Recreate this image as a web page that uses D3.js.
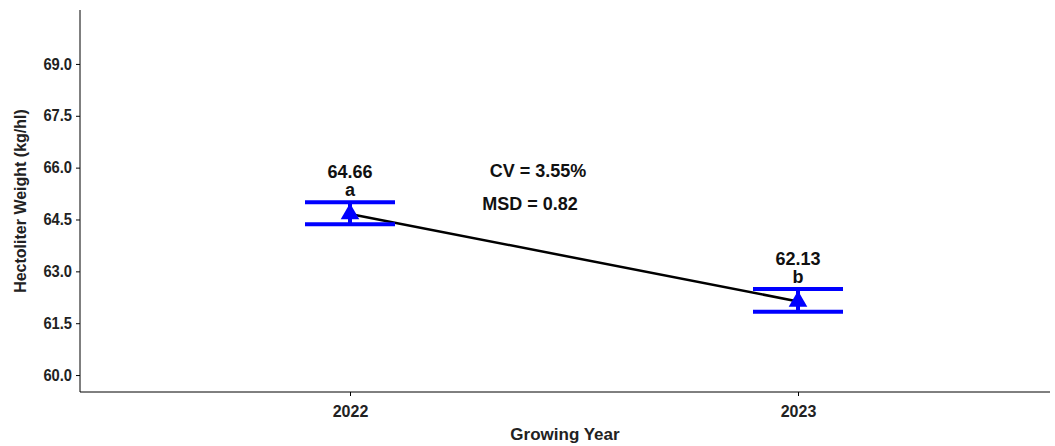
<!DOCTYPE html>
<html><head><meta charset="utf-8">
<script src="https://cdn.jsdelivr.net/npm/d3@7"></script>
<style>body{margin:0;background:#fff}text{font-family:Arial,"Liberation Sans",sans-serif;font-weight:bold}</style>
</head><body><svg id="c" width="1055" height="446"></svg>
<script>
const years=["2022","2023"];
const means=[64.66,62.13];
const upper=[65.0,62.49];
const lower=[64.36,61.83];
const letters=["a","b"];
const yTicks=[60.0,61.5,63.0,64.5,66.0,67.5,69.0];
const svg=d3.select("#c");
const L=80,R=1050,T=10,B=392;
const x=d3.scalePoint().domain(years).range([350,798]);
const y=d3.scaleLinear().domain([59.51,70.56]).range([B,T]);
const ya=svg.append("g").attr("transform",`translate(${L},0)`).call(d3.axisLeft(y).tickValues(yTicks).tickFormat(d3.format(".1f")).tickSize(4).tickSizeOuter(0));
ya.select(".domain").attr("d",`M0,${T}V${B}`).attr("stroke","#000");
ya.selectAll("text").attr("fill","#222").style("font-size","16px").attr("transform","scale(0.92,1)").attr("x",-8/0.92);
const xa=svg.append("g").attr("transform",`translate(0,${B})`).call(d3.axisBottom(x).tickSize(4).tickSizeOuter(0));
xa.select(".domain").attr("d",`M${L},0H${R}`);
xa.selectAll("text").attr("fill","#222").attr("dy","1.1em").style("font-size","16px");
svg.append("text").attr("x",565).attr("y",440).attr("text-anchor","middle").attr("font-size",17).attr("fill","#222").text("Growing Year");
svg.append("text").attr("transform","translate(26,201) rotate(-90)").attr("text-anchor","middle").attr("font-size",16).attr("fill","#222").text("Hectoliter Weight (kg/hl)");
svg.append("path").datum(years).attr("d",d3.line().x(d=>x(d)).y((d,i)=>y(means[i]))).attr("stroke","#000").attr("stroke-width",2.5).attr("fill","none");
years.forEach((yr,i)=>{
  const cx=x(yr),w=45;
  [upper[i],lower[i]].forEach(v=>svg.append("line").attr("x1",cx-w).attr("x2",cx+w).attr("y1",y(v)).attr("y2",y(v)).attr("stroke","#0000ff").attr("stroke-width",4));
  svg.append("line").attr("x1",cx).attr("x2",cx).attr("y1",y(upper[i])).attr("y2",y(lower[i])).attr("stroke","#0000ff").attr("stroke-width",4);
  svg.append("path").attr("d",d3.symbol(d3.symbolTriangle,150)()).attr("transform",`translate(${cx},${y(means[i])})`).attr("fill","#0000ff");
  svg.append("text").attr("x",cx).attr("y",y(upper[i])-24).attr("text-anchor","middle").attr("font-size",18).attr("fill","#111").text(means[i].toFixed(2));
  svg.append("text").attr("x",cx).attr("y",y(upper[i])-6).attr("text-anchor","middle").attr("font-size",18).attr("fill","#111").text(letters[i]);
});
svg.append("text").attr("x",538).attr("y",177).attr("text-anchor","middle").attr("font-size",18).attr("fill","#111").text("CV = 3.55%");
svg.append("text").attr("x",530).attr("y",210).attr("text-anchor","middle").attr("font-size",18).attr("fill","#111").text("MSD = 0.82");
</script></body></html>
